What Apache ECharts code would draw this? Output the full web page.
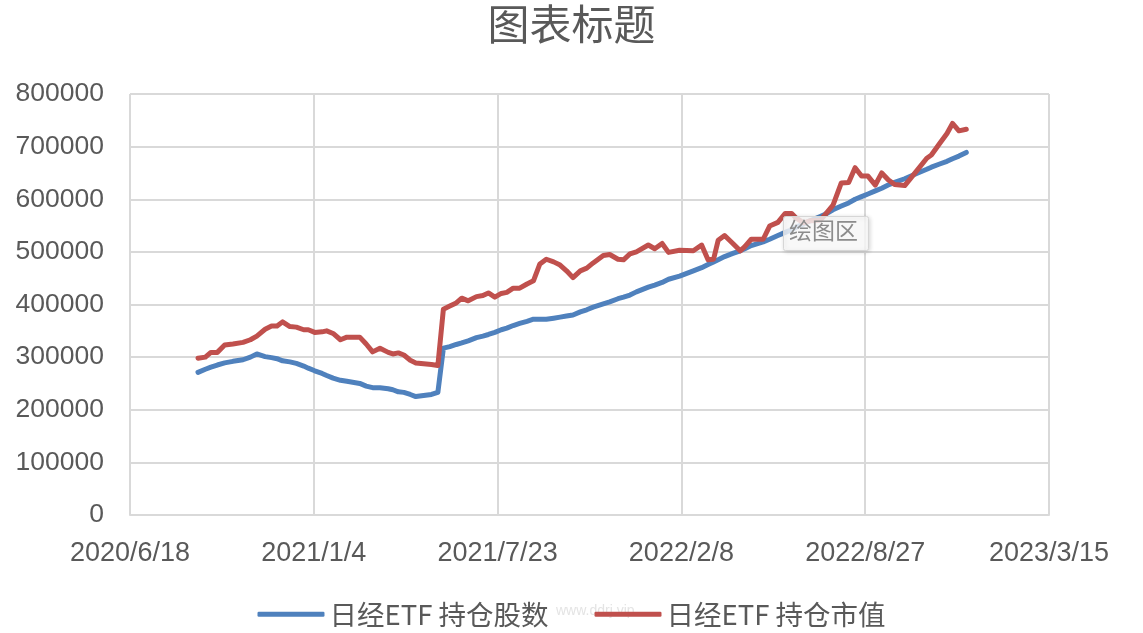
<!DOCTYPE html>
<html>
<head>
<meta charset="utf-8">
<script src="https://cdn.jsdelivr.net/npm/echarts@6/dist/echarts.min.js"></script>
<style>
html,body{margin:0;padding:0;background:#fff;}
#chart{width:1143px;height:633px;}
</style>
</head>
<body>
<div id="chart"></div>
<script>
const dates = [
 '2020-08-31','2020-09-08','2020-09-14','2020-09-21','2020-09-29','2020-10-08','2020-10-19','2020-10-27',
 '2020-11-03','2020-11-12','2020-11-19','2020-11-25','2020-12-01','2020-12-09','2020-12-16','2020-12-24',
 '2020-12-29','2021-01-05','2021-01-13','2021-01-18','2021-01-25','2021-02-02','2021-02-09','2021-02-23',
 '2021-03-02','2021-03-09','2021-03-17','2021-03-26','2021-03-31','2021-04-06','2021-04-12','2021-04-19',
 '2021-04-25','2021-05-12','2021-05-19','2021-05-25','2021-06-01','2021-06-08','2021-06-14','2021-06-21',
 '2021-06-30','2021-07-07','2021-07-13','2021-07-20','2021-07-27','2021-08-02','2021-08-09','2021-08-16',
 '2021-08-24','2021-08-31','2021-09-07','2021-09-14','2021-09-22','2021-09-29','2021-10-06','2021-10-13',
 '2021-10-21','2021-10-28','2021-11-04','2021-11-15','2021-11-22','2021-12-01','2021-12-07','2021-12-14',
 '2021-12-21','2022-01-03','2022-01-10','2022-01-18','2022-01-25','2022-02-06','2022-02-21','2022-03-02',
 '2022-03-09','2022-03-15','2022-03-20','2022-03-27','2022-04-05','2022-04-13','2022-04-18','2022-04-25',
 '2022-05-08','2022-05-15','2022-05-24','2022-06-01','2022-06-08','2022-06-13','2022-06-21','2022-06-28',
 '2022-07-09','2022-07-14','2022-07-23','2022-08-01','2022-08-09','2022-08-16','2022-08-23','2022-08-30',
 '2022-09-07','2022-09-14','2022-09-21','2022-09-28','2022-10-09','2022-10-22','2022-11-02','2022-11-07',
 '2022-11-16','2022-11-24','2022-11-30','2022-12-07','2022-12-15'
];
const shares = [
 271000,277000,281000,285000,289000,292000,295000,300000,
 306000,301000,299000,297000,293000,291000,288000,283000,
 279000,274000,269000,265000,260000,256000,254000,250000,
 245000,242000,242000,240000,238000,234000,233000,229000,
 225000,229000,233000,317000,320000,324000,327000,331000,
 337000,340000,343000,347000,352000,355000,360000,364000,
 368000,372000,372000,372000,374000,376000,378000,380000,
 386000,390000,395000,401000,405000,411000,414000,418000,
 424000,433000,437000,442000,448000,454000,464000,470000,
 476000,481000,485000,491000,497000,502000,506000,512000,
 519000,524000,531000,537000,542000,547000,553000,559000,
 567000,571000,580000,587000,593000,600000,605000,610000,
 616000,621000,627000,632000,639000,649000,657000,661000,
 667000,672000,677000,682000,689000
];
const marketValue = [
 298000,300000,309000,309000,323000,325000,328000,333000,
 340000,353000,359000,359000,367000,358000,357000,352000,
 352000,347000,348000,350000,345000,333000,338000,338000,
 325000,310000,317000,309000,306000,308000,304000,294000,
 289000,286000,284000,391000,397000,403000,412000,407000,
 415000,417000,422000,414000,421000,423000,431000,431000,
 439000,445000,477000,486000,481000,475000,464000,451000,
 464000,469000,479000,493000,495000,486000,485000,496000,
 500000,513000,506000,516000,499000,503000,502000,513000,
 485000,486000,522000,531000,516000,502000,510000,524000,
 524000,549000,556000,573000,573000,564000,555000,559000,
 560000,570000,589000,631000,632000,660000,644000,644000,
 627000,650000,637000,628000,626000,654000,678000,684000,
 706000,725000,744000,730000,733000
];
const seriesNames = ['日经ETF 持仓股数','日经ETF 持仓市值'];
const titleText = '图表标题';
const yTicks = {min:0, max:800000, interval:100000};
const xStart = '2020-06-18';
const xTickDays = 200, xSpanDays = 1000;

const DAY = 86400000;
const START = Date.parse(xStart + 'T00:00:00Z');
const dayOf = s => (Date.parse(s + 'T00:00:00Z') - START) / DAY;
const fmtDay = d => { const t = new Date(START + d * DAY); return t.getUTCFullYear() + '/' + (t.getUTCMonth()+1) + '/' + t.getUTCDate(); };

const chart = echarts.init(document.getElementById('chart'));
const font = '"Noto Sans CJK SC","Liberation Sans",sans-serif';
chart.setOption({
  animation:false,
  backgroundColor:'#ffffff',
  title:{text:titleText,left:'center',top:-2,textStyle:{fontSize:42,fontWeight:'normal',color:'#595959',fontFamily:font}},
  grid:{left:130,right:94,top:94,bottom:118,containLabel:false},
  legend:{
    bottom:0,left:'center',itemWidth:67,itemHeight:5,itemGap:46,icon:'roundRect',
    textStyle:{fontSize:27.5,color:'#595959',fontFamily:font,padding:[0,0,0,0]},
    data:seriesNames
  },
  xAxis:{
    type:'value',min:0,max:xSpanDays,interval:xTickDays,
    axisLine:{show:true,lineStyle:{color:'#d9d9d9',width:2}},
    axisTick:{show:false},
    splitLine:{show:true,lineStyle:{color:'#d9d9d9',width:2}},
    axisLabel:{formatter:fmtDay,fontSize:27,color:'#595959',fontFamily:'"Liberation Sans",sans-serif',margin:25}
  },
  yAxis:{
    type:'value',min:yTicks.min,max:yTicks.max,interval:yTicks.interval,
    axisLine:{show:false},axisTick:{show:false},
    splitLine:{show:true,lineStyle:{color:'#d9d9d9',width:2}},
    axisLabel:{formatter:v=>String(v),fontSize:26.5,color:'#595959',fontFamily:'"Liberation Sans",sans-serif',margin:26}
  },
  series:[
    {name:seriesNames[0],type:'line',showSymbol:false,symbol:'none',
     lineStyle:{width:5,color:'#4f81bd',cap:'round',join:'round'},itemStyle:{color:'#4f81bd'},
     data:dates.map((d,i)=>[dayOf(d),shares[i]])},
    {name:seriesNames[1],type:'line',showSymbol:false,symbol:'none',
     lineStyle:{width:5,color:'#c0504d',cap:'round',join:'round'},itemStyle:{color:'#c0504d'},
     data:dates.map((d,i)=>[dayOf(d),marketValue[i]])}
  ],
  graphic:[
    {type:'text',left:556,top:604,z:0,style:{text:'www.ddrj.vip',fontSize:14,fill:'#e4e4e4',fontFamily:'"Liberation Sans",sans-serif'}},
    {type:'rect',left:783,top:216,z:100,shape:{width:85,height:34,r:2},
     style:{fill:'rgba(255,255,255,0.8)',stroke:'#d6d6d6',lineWidth:1,shadowBlur:4,shadowColor:'rgba(0,0,0,0.18)',shadowOffsetX:1,shadowOffsetY:1}},
    {type:'text',left:789,top:219,z:101,style:{text:'绘图区',fontSize:23,fill:'#8c8c8c',fontFamily:font}}
  ]
});
</script>
</body>
</html>
